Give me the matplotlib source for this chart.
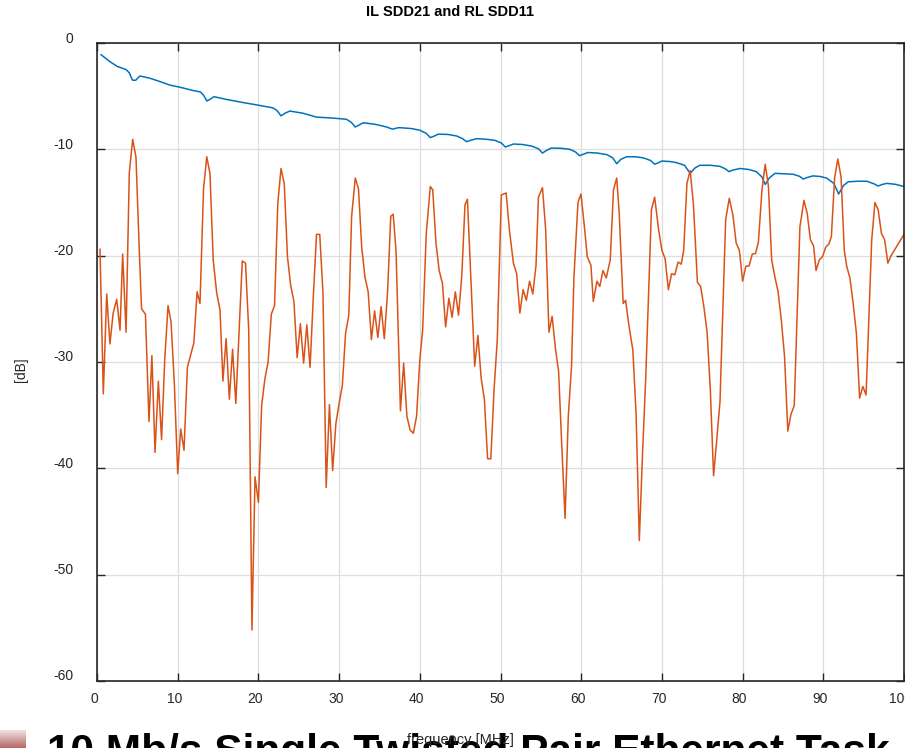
import numpy as np
import matplotlib.pyplot as plt
from matplotlib.colors import LinearSegmentedColormap
from matplotlib.transforms import ScaledTranslation

# insertion loss SDD21 [dB] vs frequency [MHz]
il_freq = [0.5, 1.5, 2.5, 3.6, 4.0, 4.4, 4.8, 5.3, 6.5, 7.7, 9.0, 10.5, 11.8, 12.8,
           13.2, 13.6, 14.0, 14.5, 16.0, 18.1, 20.0, 21.8, 22.3, 22.8, 23.3, 23.9,
           25.5, 27.2, 29.0, 30.9, 31.5, 32.0, 32.5, 33.0, 34.5, 35.9, 36.4, 36.7,
           37.1, 37.5, 39.0, 40.0, 40.8, 41.3, 41.8, 42.3, 43.5, 44.6, 45.3, 45.8,
           46.3, 47.0, 48.2, 49.3, 50.1, 50.6, 51.1, 51.6, 52.8, 53.9, 54.7, 55.2,
           55.7, 56.3, 57.5, 58.6, 59.3, 59.8, 60.3, 60.8, 62.0, 63.2, 63.9, 64.4,
           64.9, 65.6, 66.7, 67.7, 68.6, 69.1, 69.6, 70.0, 71.0, 71.8, 72.8, 73.5,
           74.1, 74.7, 76.0, 77.2, 77.9, 78.3, 78.8, 79.7, 80.8, 81.7, 82.4, 82.8,
           83.3, 84.0, 85.2, 86.3, 87.1, 87.5, 88.0, 88.7, 89.6, 90.4, 91.3, 91.9,
           92.5, 93.1, 94.3, 95.4, 96.3, 96.8, 97.3, 97.9, 99.0, 100.0]
il_db = [-1.1, -1.7, -2.2, -2.5, -2.8, -3.5, -3.5, -3.1, -3.3, -3.6, -3.95, -4.2,
         -4.45, -4.6, -4.9, -5.45, -5.3, -5.05, -5.3, -5.6, -5.85, -6.1, -6.35,
         -6.85, -6.6, -6.4, -6.6, -6.97, -7.05, -7.17, -7.45, -7.9, -7.7, -7.5,
         -7.65, -7.9, -8.05, -8.1, -8.0, -7.96, -8.05, -8.2, -8.5, -8.9, -8.75,
         -8.57, -8.6, -8.75, -9.0, -9.28, -9.15, -9.0, -9.05, -9.15, -9.4, -9.78,
         -9.65, -9.5, -9.55, -9.7, -9.95, -10.35, -10.1, -9.88, -9.9, -10.0,
         -10.25, -10.6, -10.45, -10.3, -10.35, -10.5, -10.8, -11.35, -10.95, -10.7,
         -10.7, -10.8, -11.05, -11.4, -11.25, -11.1, -11.15, -11.25, -11.5, -12.26,
         -11.75, -11.5, -11.5, -11.6, -11.85, -12.1, -11.95, -11.8, -11.9, -12.1,
         -12.6, -13.3, -12.7, -12.26, -12.3, -12.35, -12.55, -12.8, -12.65, -12.5,
         -12.55, -12.7, -13.2, -14.2, -13.4, -13.05, -13.0, -13.0, -13.25, -13.45,
         -13.3, -13.2, -13.3, -13.5]

# return loss SDD11 [dB] vs frequency [MHz]
rl_freq = [0.37, 0.78, 1.2, 1.6, 2.0, 2.44, 2.85, 3.18, 3.6, 4.0, 4.42, 4.83, 5.25,
           5.52, 6.0, 6.44, 6.8, 7.19, 7.6, 8.0, 8.39, 8.8, 9.17, 9.58, 10.0, 10.37,
           10.78, 11.2, 12.0, 12.4, 12.76, 13.2, 13.6, 14.0, 14.4, 14.83, 15.24,
           15.6, 16.0, 16.4, 16.8, 17.2, 17.6, 18.0, 18.4, 18.8, 19.2, 19.58, 20.0,
           20.4, 20.8, 21.2, 21.6, 22.0, 22.4, 22.8, 23.2, 23.6, 24.0, 24.4, 24.8,
           25.2, 25.6, 26.0, 26.4, 26.8, 27.2, 27.6, 28.0, 28.4, 28.8, 29.2, 29.6,
           30.0, 30.4, 30.8, 31.2, 31.55, 32.0, 32.4, 32.8, 33.2, 33.6, 34.0, 34.4,
           34.8, 35.2, 35.6, 36.0, 36.4, 36.7, 37.05, 37.6, 38.0, 38.4, 38.8, 39.2,
           39.6, 40.0, 40.35, 40.8, 41.3, 41.6, 42.0, 42.4, 42.8, 43.2, 43.6, 44.0,
           44.4, 44.8, 45.2, 45.6, 45.9, 46.5, 46.8, 47.2, 47.6, 48.0, 48.4, 48.8,
           49.2, 49.6, 50.1, 50.7, 51.1, 51.6, 52.0, 52.4, 52.8, 53.2, 53.6, 54.0,
           54.4, 54.7, 55.2, 55.6, 56.0, 56.4, 56.8, 57.2, 57.6, 58.0, 58.4, 58.8,
           59.1, 59.6, 59.97, 60.4, 60.75, 61.2, 61.5, 61.95, 62.3, 62.7, 63.1, 63.6,
           64.0, 64.4, 64.7, 65.2, 65.5, 65.9, 66.4, 66.8, 67.2, 67.6, 68.0, 68.7,
           69.1, 69.6, 70.0, 70.4, 70.8, 71.2, 71.6, 72.0, 72.4, 72.7, 73.1, 73.5,
           73.9, 74.4, 74.8, 75.2, 75.6, 76.0, 76.4, 76.8, 77.2, 77.9, 78.35, 78.8,
           79.2, 79.6, 80.0, 80.4, 80.8, 81.2, 81.6, 81.96, 82.4, 82.8, 83.2, 83.6,
           84.0, 84.4, 84.8, 85.2, 85.6, 86.0, 86.4, 87.1, 87.6, 88.0, 88.4, 88.8,
           89.1, 89.5, 89.9, 90.3, 90.7, 91.0, 91.4, 91.8, 92.2, 92.6, 92.9, 93.3,
           93.7, 94.1, 94.5, 94.9, 95.3, 96.0, 96.4, 96.8, 97.2, 97.6, 98.0, 98.4,
           99.2, 100.0]
rl_db = [-19.4, -33.0, -23.6, -28.3, -25.4, -24.1, -27.0, -19.85, -27.2, -12.2, -9.06,
         -10.75, -19.8, -25.0, -25.5, -35.6, -29.4, -38.5, -31.8, -37.3, -29.8,
         -24.7, -26.2, -32.0, -40.5, -36.3, -38.3, -30.5, -28.2, -23.4, -24.5,
         -13.7, -10.7, -12.3, -20.4, -23.5, -25.1, -31.8, -27.8, -33.5, -28.8,
         -33.9, -27.3, -20.5, -20.7, -27.0, -55.2, -40.8, -43.2, -34.1, -31.6,
         -30.0, -25.5, -24.7, -15.1, -11.8, -13.2, -20.1, -22.8, -24.3, -29.6,
         -26.4, -30.1, -26.5, -30.5, -23.9, -18.0, -18.0, -23.5, -41.8, -34.0,
         -40.2, -35.8, -33.9, -32.2, -27.3, -25.6, -16.3, -12.7, -13.7, -19.2,
         -22.0, -23.4, -27.9, -25.2, -27.7, -24.8, -27.8, -23.5, -16.3, -16.1,
         -19.5, -34.6, -30.1, -35.1, -36.4, -36.7, -35.1, -29.8, -27.0, -17.9,
         -13.5, -13.8, -18.8, -21.4, -22.6, -26.7, -24.0, -25.8, -23.4, -25.6,
         -21.9, -15.2, -14.7, -25.1, -30.4, -27.5, -31.5, -33.5, -39.1, -39.1,
         -32.6, -27.9, -14.3, -14.1, -17.6, -20.7, -21.7, -25.4, -23.2, -24.2,
         -22.4, -23.6, -20.9, -14.5, -13.6, -17.6, -27.2, -25.7, -28.7, -30.9,
         -38.0, -44.7, -35.1, -30.4, -22.0, -15.0, -14.2, -17.3, -20.1, -20.9,
         -24.3, -22.4, -22.9, -21.4, -22.1, -20.4, -13.8, -12.7, -15.9, -24.5,
         -24.2, -26.5, -28.9, -34.9, -46.8, -38.6, -31.4, -15.7, -14.5, -17.6,
         -19.5, -20.3, -23.2, -21.7, -21.8, -20.6, -20.8, -19.5, -13.2, -12.0,
         -15.1, -22.5, -22.9, -24.8, -27.2, -32.6, -40.7, -37.3, -33.7, -16.6,
         -14.6, -16.2, -18.8, -19.5, -22.4, -21.0, -20.97, -19.85, -19.8, -18.7,
         -13.8, -11.4, -13.5, -20.4, -22.0, -23.4, -26.1, -29.5, -36.5, -34.9,
         -34.1, -17.3, -14.8, -16.0, -18.5, -19.1, -21.4, -20.4, -20.1, -19.2,
         -18.9, -18.2, -12.7, -10.9, -12.6, -19.5, -21.0, -22.1, -24.5, -27.3,
         -33.4, -32.3, -33.1, -18.5, -15.0, -15.7, -17.9, -18.5, -20.7, -20.0,
         -19.0, -18.0]

x_ticks = list(range(0, 101, 10))
y_ticks = list(range(-60, 1, 10))

plt.rcParams["font.family"] = ["Liberation Sans", "DejaVu Sans"]
plt.rcParams["axes.unicode_minus"] = False
axis_color = "#262626"

fig = plt.figure(figsize=(9.05, 7.48), dpi=100)
ax = fig.add_axes([0.1072, 0.0896, 0.8917, 0.8529])

ax.plot(il_freq, il_db, color="#0072BD", lw=1.1)
ax.plot(rl_freq, rl_db, color="#D95319", lw=1.1)

ax.set_xlim(0, 100)
ax.set_ylim(-60, 0)
ax.set_xticks(x_ticks)
ax.set_yticks(y_ticks)
ax.grid(True, color="#dedede", lw=0.9)
ax.set_axisbelow(True)

for side in ["left", "right", "top", "bottom"]:
    ax.spines[side].set_color(axis_color)
    ax.spines[side].set_linewidth(1.2)

ax.tick_params(direction="in", length=6, width=1.0, color=axis_color,
               top=True, right=True, labelsize=10, labelcolor=axis_color)
ax.tick_params(axis="y", pad=17)
ax.tick_params(axis="x", pad=8)

# MATLAB-style labels sit a bit above their ticks
for lbl in ax.get_yticklabels():
    lbl.set_transform(lbl.get_transform() + ScaledTranslation(0, 6 / 100, fig.dpi_scale_trans))
for lbl in ax.get_xticklabels():
    lbl.set_transform(lbl.get_transform() + ScaledTranslation(-3 / 100, 0, fig.dpi_scale_trans))

ax.set_ylabel("[dB]", fontsize=10, color=axis_color)
ax.yaxis.set_label_coords(28 / 905, 1 - 370 / 748, transform=fig.transFigure)

fig.text(450 / 905, 1 - 12 / 748, "IL SDD21 and RL SDD11", fontsize=10.5,
         fontweight="bold", ha="center", va="center", color="black")
fig.text(460 / 905, 1 - 740 / 748, "frequency [MHz]", fontsize=10.5,
         color=axis_color, ha="center", va="center", zorder=5)

# slide heading that runs off the bottom edge
fig.text(0.052, -0.021, "10 Mb/s Single Twisted Pair Ethernet Task", fontsize=30.5,
         fontweight="bold", color="black", ha="left", va="baseline", zorder=1)

grad = np.linspace(0, 1, 20).reshape(-1, 1)
gax = fig.add_axes([0.0, 0.0, 0.028, 0.024], zorder=-2)
gax.imshow(grad, aspect="auto", origin="upper",
           cmap=LinearSegmentedColormap.from_list("pink", ["#f2dede", "#b56a6a"]))
gax.axis("off")

fig.savefig("out.png", dpi=100)
